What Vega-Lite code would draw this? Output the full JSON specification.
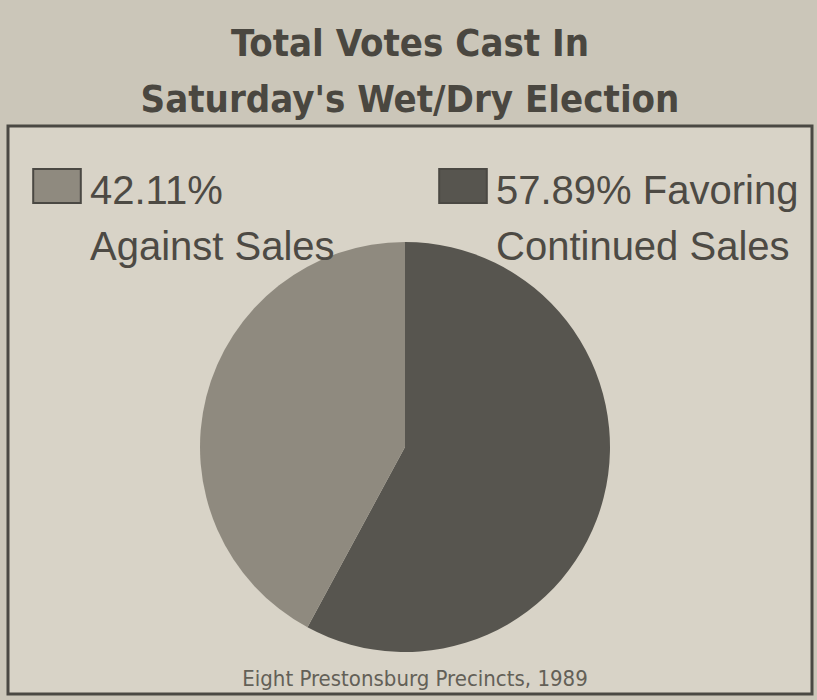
{
  "$schema": "https://vega.github.io/schema/vega-lite/v6.json",
  "autosize": {"type": "fit", "contains": "padding"},
  "width": 817,
  "height": 700,
  "padding": {"top": 26, "left": 8, "right": 5, "bottom": 6},
  "background": "#cbc6b9",
  "title": {
    "text": ["Total Votes Cast In", "Saturday's Wet/Dry Election"],
    "font": "Liberation Sans Narrow, DejaVu Sans Condensed, Roboto Condensed, Roboto, sans-serif",
    "fontWeight": "bold",
    "fontSize": 38,
    "lineHeight": 56,
    "color": "#4a4740",
    "anchor": "middle",
    "offset": 6
  },
  "data": {
    "values": [
      {"choice": "Favoring Continued Sales", "percent": 57.89},
      {"choice": "Against Sales", "percent": 42.11}
    ]
  },
  "layer": [
    {
      "mark": {"type": "arc", "outerRadius": 205, "xOffset": -5, "yOffset": 37, "stroke": null},
      "encoding": {
        "theta": {"field": "percent", "type": "quantitative", "stack": true},
        "order": {"field": "choice", "sort": "descending"},
        "color": {
          "field": "choice",
          "type": "nominal",
          "scale": {"domain": ["Against Sales", "Favoring Continued Sales"], "range": ["#8f8a7f", "#57554f"]},
          "legend": {
            "title": " ",
            "titleFontSize": 8,
            "titlePadding": 3,
            "orient": "top-left",
            "direction": "horizontal",
            "offset": 29,
            "padding": 0,
            "columnPadding": 100,
            "symbolType": "M-1.4,-1H1.4V1H-1.4Z",
            "symbolSize": 1156,
            "symbolStrokeColor": "#4a4843",
            "symbolStrokeWidth": 2,
            "labelFont": "Liberation Sans",
            "labelFontSize": 40,
            "labelColor": "#4d4a44",
            "labelLimit": 500,
            "labelOffset": 13,
            "labelBaseline": "alphabetic",
            "labelExpr": "datum.label == 'Against Sales' ? ['42.11%', 'Against Sales'] : ['57.89% Favoring', 'Continued Sales']",
            "encode": {
              "labels": {"update": {"lineHeight": {"value": 56}, "dy": {"value": 18}}}
            }
          }
        }
      }
    },
    {
      "data": {"values": [{"caption": "Eight Prestonsburg Precincts, 1989"}]},
      "mark": {
        "type": "text",
        "font": "Liberation Sans Narrow, DejaVu Sans Condensed, Roboto Condensed, Roboto, sans-serif",
        "fontSize": 22,
        "color": "#636057",
        "baseline": "alphabetic",
        "dy": -8,
        "dx": 5
      },
      "encoding": {
        "text": {"field": "caption", "type": "nominal"},
        "y": {"value": "height"}
      }
    }
  ],
  "config": {
    "view": {"fill": "#d8d3c7", "stroke": "#4a4843", "strokeWidth": 3}
  }
}
